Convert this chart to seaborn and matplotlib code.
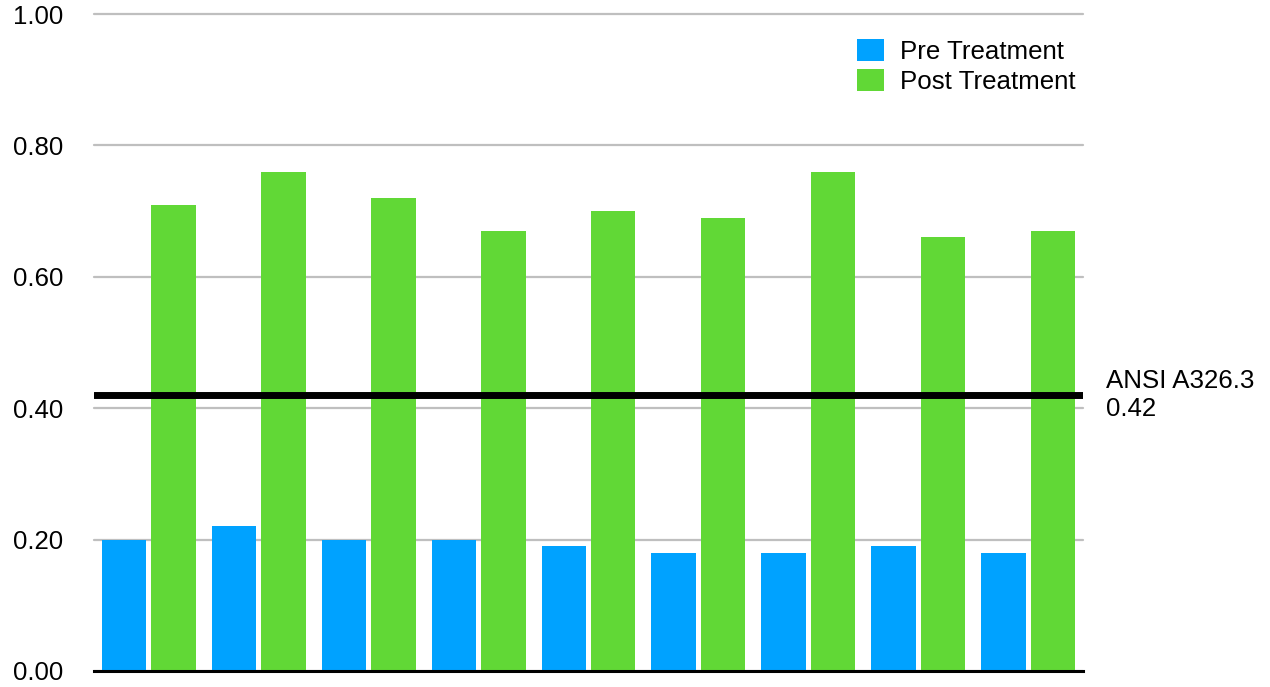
import pandas as pd
import matplotlib.pyplot as plt
import matplotlib.transforms as mtransforms
import seaborn as sns

# values
samples = ["1", "2", "3", "4", "5", "6", "7", "8", "9"]
pre_treatment = [0.20, 0.22, 0.20, 0.20, 0.19, 0.18, 0.18, 0.19, 0.18]
post_treatment = [0.71, 0.76, 0.72, 0.67, 0.70, 0.69, 0.76, 0.66, 0.67]
series_names = ["Pre Treatment", "Post Treatment"]
ansi_value = 0.42
ansi_label = "ANSI A326.3\n0.42"
y_ticks = [0.0, 0.2, 0.4, 0.6, 0.8, 1.0]

df = pd.DataFrame({
    "Sample": samples * 2,
    "Value": pre_treatment + post_treatment,
    "Series": [series_names[0]] * len(samples) + [series_names[1]] * len(samples),
})

sns.set_style("white")
plt.rcParams["font.family"] = ["Liberation Sans", "DejaVu Sans"]
plt.rcParams["text.color"] = "black"
plt.rcParams["ytick.color"] = "black"
plt.rcParams["ytick.labelcolor"] = "black"

FS = 18.6

fig = plt.figure(figsize=(12.7, 6.87), dpi=100)
ax = fig.add_axes([94 / 1270, 1 - 671 / 687, (1083 - 94) / 1270, (671 - 14) / 687])

sns.barplot(data=df, x="Sample", y="Value", hue="Series",
            palette=["#00A2FF", "#61D836"], width=0.9, gap=0.1,
            saturation=1, linewidth=0, ax=ax)

ax.set_ylim(0, 1.0)
ax.set_yticks(y_ticks)
ax.set_yticklabels([f"{t:.2f}" for t in y_ticks], fontsize=FS, color="black")
ax.tick_params(axis="y", length=0, pad=22)
ax.tick_params(axis="x", length=0, labelbottom=False)
ax.set_xlabel("")
ax.set_ylabel("")

ax.yaxis.grid(True, color="#bfbfbf", linewidth=1.6)
ax.set_axisbelow(True)
for gl in ax.get_ygridlines():
    gl.set_clip_on(False)

for side in ["top", "right", "left"]:
    ax.spines[side].set_visible(False)
ax.spines["bottom"].set_color("black")
ax.spines["bottom"].set_linewidth(2.2)

# standard reference line
ax.axhline(ansi_value, color="black", linewidth=5, zorder=5)
trans = mtransforms.blended_transform_factory(fig.transFigure, ax.transData)
ax.text(1106 / 1270, ansi_value, ansi_label, transform=trans,
        fontsize=FS, color="black", va="center", ha="left", linespacing=1.25)

leg = ax.legend(loc="upper left", bbox_to_anchor=(857 / 1270, 1 - 39 / 687),
                bbox_transform=fig.transFigure, frameon=False, fontsize=FS,
                handlelength=1.05, handleheight=0.95, handletextpad=0.62,
                labelspacing=0.2, borderpad=0, borderaxespad=0, title=None)
for t in leg.get_texts():
    t.set_color("black")

plt.savefig("out.png", dpi=100)
